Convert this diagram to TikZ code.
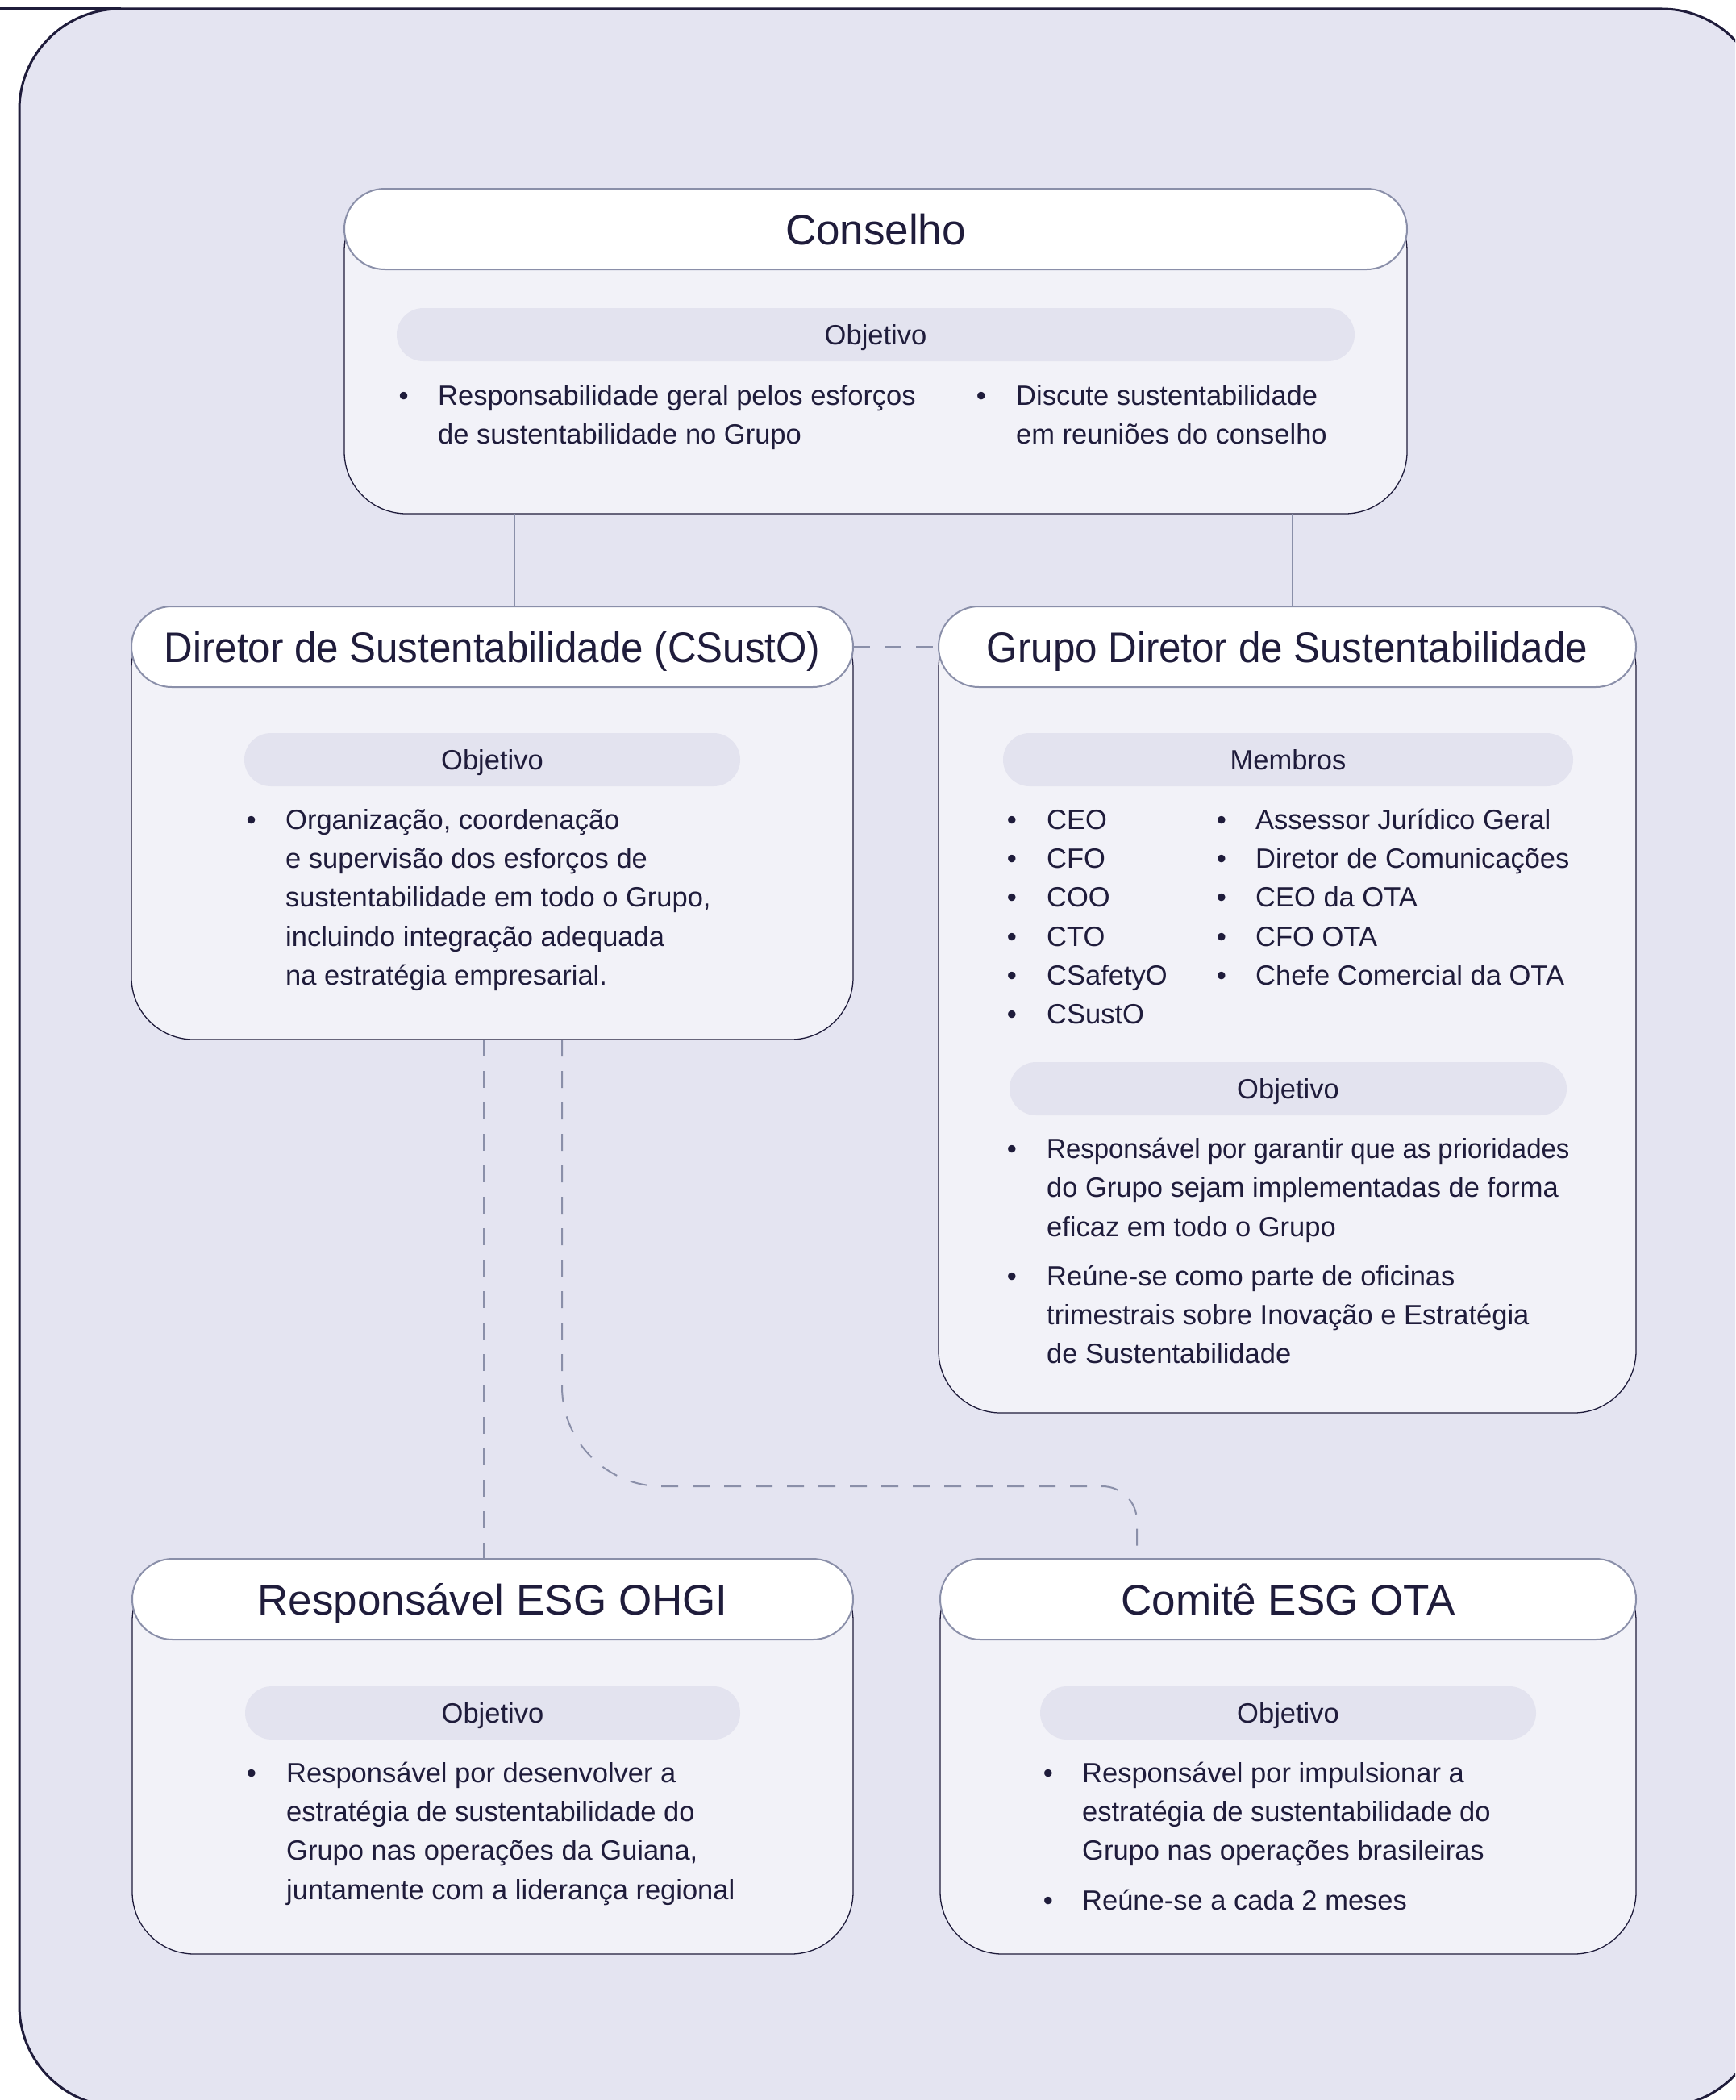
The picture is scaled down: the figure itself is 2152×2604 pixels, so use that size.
\documentclass[tikz,border=0pt]{standalone}
\usepackage{fontspec}
\setmainfont{Liberation Sans}
\usepackage{graphicx}
\definecolor{bgL}{HTML}{E4E4F1}
\definecolor{bodyF}{HTML}{F2F2F8}
\definecolor{pillF}{HTML}{E3E3EF}
\definecolor{edgeC}{HTML}{8A8FA9}
\definecolor{navy}{HTML}{1F1C3B}
\newcommand\lns[1]{\parbox[t]{900pt}{\raggedright #1}}
\newcommand\buls[1]{\parbox[t]{30pt}{\centering #1}}
\tikzset{
 frame/.style={fill=bgL, draw=navy, line width=3pt, rounded corners=125pt},
 body/.style={fill=bodyF, draw=navy, line width=1.3pt, rounded corners=77pt, anchor=north west, outer sep=0pt, inner sep=0pt},
 hdr/.style={fill=white, draw=edgeC, line width=2pt, rounded corners=50pt, minimum height=100pt, anchor=north west, outer sep=0pt, inner sep=0pt, text=navy, font=\fontsize{53}{60}\selectfont, text height=38pt, text depth=0pt},
 pill/.style={fill=pillF, rounded corners=33pt, minimum height=66pt, inner sep=0pt, outer sep=0pt, text=navy, font=\fontsize{34.5}{48.33}\selectfont, text height=24.5pt, text depth=0pt},
 txt/.style={text=navy, font=\fontsize{34.5}{48.33}\selectfont, anchor=base west, inner sep=0pt},
 bul/.style={text=navy, font=\fontsize{34.5}{48.33}\selectfont, anchor=base, inner sep=0pt},
 link/.style={draw=edgeC, line width=1.8pt},
 dlink/.style={draw=edgeC, line width=2pt, dash pattern=on 21pt off 18pt},
}
\begin{document}
\begin{tikzpicture}[x=1pt,y=-1pt]
\useasboundingbox (0,0) rectangle (2152,2604);
\clip (0,0) rectangle (2152,2604);
\draw[frame] (24,11) rectangle (2186,2612);
\draw[draw=navy, line width=3pt] (0,11) -- (150,11);

% Conselho
\node[body, minimum width=1318pt, minimum height=403pt] (cB) at (427,234) {};
\node[hdr, minimum width=1318pt] (cH) at (427,234) {Conselho};
\node[pill, minimum width=1188pt] (cP) at (1086,415) {Objetivo};
\node[bul] (cb1) at (500.7,502) {•};
\node[txt] (ct1) at (543,502) {\lns{Responsabilidade geral pelos esforços\\de sustentabilidade no Grupo}};
\node[bul] (cb2) at (1217,502) {•};
\node[txt] (ct2) at (1260,502) {\lns{Discute sustentabilidade\\em reuniões do conselho}};

% Diretor de Sustentabilidade
\node[body, minimum width=895pt, minimum height=537pt] (sB) at (163,752) {};
\node[hdr, minimum width=895pt] (sH) at (163,752) {\scalebox{0.93}[1]{Diretor de Sustentabilidade (CSustO)}};
\node[pill, minimum width=615pt] (sP) at (610.5,942) {Objetivo};
\node[bul] (sb1) at (311.7,1028.3) {•};
\node[txt] (st1) at (354,1028.3) {\lns{Organização, coordenação\\e supervisão dos esforços de\\sustentabilidade em todo o Grupo,\\incluindo integração adequada\\na estratégia empresarial.}};

% Grupo Diretor
\node[body, minimum width=865pt, minimum height=1000pt] (gB) at (1164,752) {};
\node[hdr, minimum width=865pt] (gH) at (1164,752) {\scalebox{0.93}[1]{Grupo Diretor de Sustentabilidade}};
\node[pill, minimum width=707pt] (gP1) at (1597.5,942) {Membros};
\node[bul] (gmb1) at (1255,1028.3) {\buls{•\\•\\•\\•\\•\\•}};
\node[txt] (gmt1) at (1298,1028.3) {\lns{CEO\\CFO\\COO\\CTO\\CSafetyO\\CSustO}};
\node[bul] (gmb2) at (1515,1028.3) {\buls{•\\•\\•\\•\\•}};
\node[txt] (gmt2) at (1557,1028.3) {\lns{Assessor Jurídico Geral\\Diretor de Comunicações\\CEO da OTA\\CFO OTA\\Chefe Comercial da OTA}};
\node[pill, minimum width=691pt] (gP2) at (1597.5,1350) {Objetivo};
\node[bul] (gb1) at (1255,1436.5) {•};
\node[txt] (gt1) at (1298,1436.5) {\lns{\scalebox{0.955}[1]{Responsável por garantir que as prioridades}\\do Grupo sejam implementadas de forma\\eficaz em todo o Grupo}};
\node[bul] (gb2) at (1255,1594) {•};
\node[txt] (gt2) at (1298,1594) {\lns{Reúne-se como parte de oficinas\\trimestrais sobre Inovação e Estratégia\\de Sustentabilidade}};

% Responsavel ESG OHGI
\node[body, minimum width=894pt, minimum height=490pt] (oB) at (164,1933) {};
\node[hdr, minimum width=894pt] (oH) at (164,1933) {Responsável ESG OHGI};
\node[pill, minimum width=614pt] (oP) at (611,2124) {Objetivo};
\node[bul] (ob1) at (312,2210) {•};
\node[txt] (ot1) at (355,2210) {\lns{Responsável por desenvolver a\\estratégia de sustentabilidade do\\Grupo nas operações da Guiana,\\juntamente com a liderança regional}};

% Comite ESG OTA
\node[body, minimum width=863pt, minimum height=490pt] (mB) at (1166,1933) {};
\node[hdr, minimum width=863pt] (mH) at (1166,1933) {Comitê ESG OTA};
\node[pill, minimum width=615pt] (mP) at (1597.5,2124) {Objetivo};
\node[bul] (mb1) at (1300,2210) {•};
\node[txt] (mt1) at (1342,2210) {\lns{Responsável por impulsionar a\\estratégia de sustentabilidade do\\Grupo nas operações brasileiras}};
\node[bul] (mb2) at (1300,2368) {•};
\node[txt] (mt2) at (1342,2368) {\lns{Reúne-se a cada 2 meses}};

% connectors
\coordinate (xa) at (638,0);
\coordinate (xb) at (1603,0);
\coordinate (xc) at (600,0);
\coordinate (xd) at (697,0);
\coordinate (xe) at (1410,0);
\draw[link] (cB.south -| xa) -- (sH.north -| xa);
\draw[link] (cB.south -| xb) -- (gH.north -| xb);
\draw[dlink] (sH.east) -- (gH.west);
\draw[dlink] (sB.south -| xc) -- (oH.north -| xc);
\draw[dlink] (sB.south -| xd) -- (697,1719) .. controls (697,1787.5) and (752.5,1843) .. (821,1843) -- (1367,1843) .. controls (1390.7,1843) and (1410,1862.3) .. (1410,1886) -- (mH.north -| xe);
\end{tikzpicture}
\end{document}
